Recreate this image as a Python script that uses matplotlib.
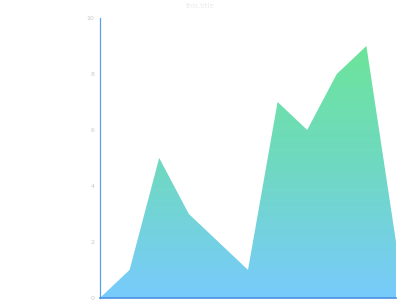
import numpy as np
import matplotlib
matplotlib.use("Agg")
import matplotlib.pyplot as plt
from matplotlib.colors import LinearSegmentedColormap

# data
x_vals = [0, 1, 2, 3, 4, 5, 6, 7, 8, 9, 10]
y_vals = [0, 1, 5, 3, 2, 1, 7, 6, 8, 9, 2]
y_ticks = [0, 2, 4, 6, 8, 10]
title = "this.title"


def main():
    fig = plt.figure(figsize=(4, 3), dpi=100)
    ax = fig.add_axes([0.25, 0.007, 0.74, 0.933])

    # area polygon, then a vertical gradient clipped to it
    poly = ax.fill_between(x_vals, y_vals, 0, color="none", lw=0)
    cmap = LinearSegmentedColormap.from_list("g", ["#78cbfc", "#70d8c4", "#6ce49a"])
    grad = np.linspace(0, 1, 256).reshape(-1, 1)
    img = ax.imshow(grad, cmap=cmap, origin="lower", aspect="auto",
                    extent=[x_vals[0], x_vals[-1], 0, max(y_vals)], zorder=1)
    img.set_clip_path(poly.get_paths()[0], transform=ax.transData)

    ax.set_xlim(x_vals[0], x_vals[-1])
    ax.set_ylim(0, 10)
    ax.set_yticks(y_ticks)
    ax.set_xticks([])
    ax.tick_params(axis="y", length=0, labelsize=4.5, labelcolor="#c8c8c8", pad=4)

    for s in ["top", "right"]:
        ax.spines[s].set_visible(False)
    ax.spines["left"].set_color("#5a9ee6")
    ax.spines["bottom"].set_color("#4a90e2")
    ax.spines["left"].set_linewidth(0.9)
    ax.spines["bottom"].set_linewidth(1.2)
    ax.patch.set_alpha(0)

    fig.text(0.5, 0.98, title, ha="center", va="center", fontsize=5, color="#ebebeb")
    fig.savefig("out.png", dpi=100)


if __name__ == "__main__":
    main()
